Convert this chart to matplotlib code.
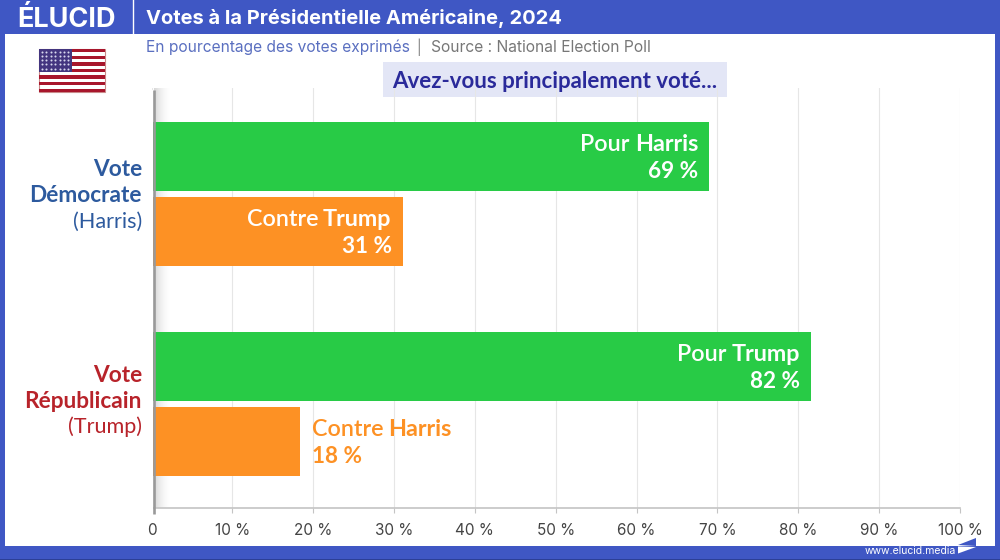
import matplotlib
matplotlib.use('Agg')
import matplotlib.pyplot as plt
from matplotlib.patches import Rectangle, Polygon
from matplotlib.transforms import offset_copy
import numpy as np

group_lines = [['Vote', 'Démocrate'], ['Vote', 'Républicain']]
candidates = ['(Harris)', '(Trump)']
choices = ['Pour', 'Contre', 'Pour', 'Contre']
names = ['Harris', 'Trump', 'Trump', 'Harris']
values = [69.0, 31.1, 81.6, 18.4]
shown = [69, 31, 82, 18]
ticks = [0, 10, 20, 30, 40, 50, 60, 70, 80, 90, 100]
tick_labels = ['0', '10 %', '20 %', '30 %', '40 %', '50 %', '60 %', '70 %', '80 %', '90 %', '100 %']

BLUE = '#3f57c4'
GREEN = '#28cb46'
ORANGE = '#fd9124'
colors = [GREEN, ORANGE, GREEN, ORANGE]
ypos = [0, 1, 2.8, 3.8]
W, H = 1000, 560

plt.rcParams['font.family'] = ['Inter', 'DejaVu Sans']
fig = plt.figure(figsize=(10, 5.6), dpi=100)

# overlay in pixel coordinates for the frame, flag and header
bg = fig.add_axes([0, 0, 1, 1], zorder=0)
bg.set_xlim(0, W)
bg.set_ylim(H, 0)
bg.axis('off')
bg.add_patch(Rectangle((0, 0), W, 34, color=BLUE, lw=0))
bg.add_patch(Rectangle((0, 0), 5, H, color=BLUE, lw=0))
bg.add_patch(Rectangle((995, 0), 5, H, color=BLUE, lw=0))
bg.add_patch(Rectangle((0, 546), W, 14, color=BLUE, lw=0))
bg.add_patch(Rectangle((0, 558.5), W, 1.5, color='#2c3f96', lw=0))
bg.plot([132.5, 132.5], [0, 34], color='white', lw=1)
bg.text(17, 27, 'ÉLUCID', color='white', fontsize=19.5, fontweight='bold', va='baseline', ha='left')
bg.text(146, 18.5, 'Votes à la Présidentielle Américaine, 2024', color='white', fontsize=14.45,
        fontweight='bold', va='center', ha='left')
bg.text(146, 47, 'En pourcentage des votes exprimés', color='#5a6fc0', fontsize=11.2, va='center', ha='left')
bg.text(419, 47, '|', color='#888888', fontsize=10, va='center', ha='center')
bg.text(431, 47, 'Source : National Election Poll', color='#777777', fontsize=11.2, va='center', ha='left')
bg.add_patch(Rectangle((383, 62), 344, 35, color='#e3e6f6', lw=0))
bg.text(554.5, 81, 'Avez-vous principalement voté...', color='#2a2a9a', fontsize=16, fontweight='bold',
        family='Lato', va='center', ha='center')
bg.text(865, 551.5, 'www.elucid.media', color='white', fontsize=7.5, va='center', ha='left')
bg.add_patch(Polygon([[958, 545], [976, 538], [976, 546]], color=BLUE, lw=0))
bg.add_patch(Polygon([[958, 546.5], [976, 547], [958, 553.5]], color='white', lw=0))

# flag
fx, fy, fw, fh = 39, 49, 66, 43
bg.add_patch(Rectangle((fx, fy), fw, fh, facecolor='white', edgecolor='#c98a8a', lw=0.8))
for i in range(0, 13, 2):
    bg.add_patch(Rectangle((fx, fy + i * fh / 13), fw, fh / 13, color='#a8162c', lw=0))
bg.add_patch(Rectangle((fx, fy), 33, 23, color='#43357f', lw=0))
sx, sy = np.meshgrid(np.arange(fx + 3, fx + 33, 4.4), np.arange(fy + 2.5, fy + 23, 4.3))
bg.scatter(sx.ravel(), sy.ravel(), s=2.2, color='#d8d8ee', lw=0)

# chart axes: x=0 at px 151.5, 100 at px 960, y span 88 to 508
ax = fig.add_axes([151.5 / W, 1 - 508 / H, 808.5 / W, 420 / H], zorder=1)
ax.patch.set_alpha(0)
ax.xaxis.grid(True, color='#e6e6e6', lw=0.8)
ax.set_axisbelow(True)
for s in ['top', 'right', 'left']:
    ax.spines[s].set_visible(False)
ax.spines['bottom'].set_color('#c4c4c4')
ax.spines['bottom'].set_linewidth(1.2)
ax.set_xticks(ticks)
ax.set_xticklabels(tick_labels, fontsize=11, color='#444444')
ax.tick_params(axis='x', length=3.6, width=0.8, color='#c4c4c4', pad=7.4)
ax.get_xticklines()[0].set_visible(False)
ax.set_yticks([])

# soft shadow next to the axis line
shade = (1 - 0.16 * np.linspace(1, 0, 40) ** 2).reshape(1, -1)
ax.imshow(shade, extent=(0.3, 2.6, 4.693, -0.907), cmap='gray', vmin=0, vmax=1, aspect='auto', zorder=0.5)
ax.set_xlim(0, 100)
ax.set_ylim(4.693, -0.907)

ax.barh(ypos, values, height=0.92, color=colors, zorder=2)

top = fig.add_axes([0, 0, 1, 1], zorder=2)
top.set_xlim(0, W)
top.set_ylim(H, 0)
top.axis('off')
# bars start under the grey axis line, nothing shows to its left
top.add_patch(Rectangle((149, 90), 4, 420, color='white', lw=0))
top.plot([154, 154], [90, 514], color='#999999', lw=1.9, solid_capstyle='butt')

renderer = fig.canvas.get_renderer()
for y, v, c, n, s in zip(ypos, values, choices, names, shown):
    inside = v > 25
    x = v - 1.4 if inside else v + 1.4
    col = 'white' if inside else ORANGE
    kw = dict(color=col, fontsize=16.8, va='baseline', zorder=3, family='Lato')
    if inside:
        # bold name sits at the bar end, the plain word goes to its left
        t = ax.text(x, y - 0.067, n, fontweight='bold', ha='right', **kw)
        w = t.get_window_extent(renderer).width
        ax.text(x, y - 0.067, c, fontweight='semibold', ha='right',
                transform=offset_copy(ax.transData, fig, x=-w - 5, y=0, units='dots'), **kw)
    else:
        t = ax.text(x, y - 0.067, c, fontweight='semibold', ha='left', **kw)
        w = t.get_window_extent(renderer).width
        ax.text(x, y - 0.067, n, fontweight='bold', ha='left',
                transform=offset_copy(ax.transData, fig, x=w + 5, y=0, units='dots'), **kw)
    kw['fontsize'] = 16.2
    ax.text(x, y + 0.293, '%d %%' % s, fontweight='bold', ha='right' if inside else 'left', **kw)

group_colors = ['#2d5a9e', '#b8232a']
group_y = [176.5, 381.5]
for lines, cand, col, py in zip(group_lines, candidates, group_colors, group_y):
    bg.text(142, py, lines[0], color=col, fontsize=16.3, fontweight='bold', ha='right', va='baseline', family='Lato')
    bg.text(142, py + 26, lines[1], color=col, fontsize=16.3, fontweight='bold', ha='right', va='baseline', family='Lato')
    bg.text(142, py + 51.5, cand, color=col, fontsize=15.6, ha='right', va='baseline', family='Lato')

fig.savefig('out.png', dpi=100)
